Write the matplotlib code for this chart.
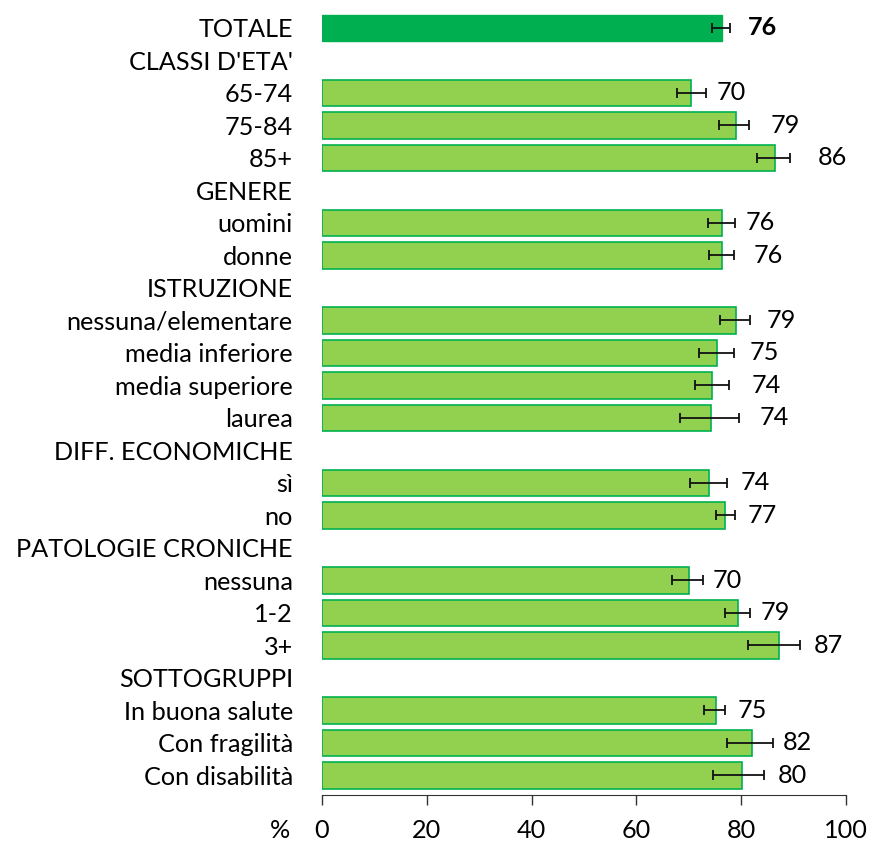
import numpy as np
import matplotlib
matplotlib.use('Agg')
import matplotlib.pyplot as plt

plt.rcParams['font.family'] = ['Lato', 'DejaVu Sans']

# ── dati ─────────────────────────────────────────────────────────────
labels = ["TOTALE", "CLASSI D'ETA'", "65-74", "75-84", "85+",
          "GENERE", "uomini", "donne",
          "ISTRUZIONE", "nessuna/elementare", "media inferiore", "media superiore", "laurea",
          "DIFF. ECONOMICHE", "sì", "no",
          "PATOLOGIE CRONICHE", "nessuna", "1-2", "3+",
          "SOTTOGRUPPI", "In buona salute", "Con fragilità", "Con disabilità"]
nan = np.nan
values = [76.4, nan, 70.4, 79.0, 86.4,
          nan, 76.4, 76.4,
          nan, 79.0, 75.4, 74.4, 74.2,
          nan, 73.9, 77.0,
          nan, 70.0, 79.4, 87.2,
          nan, 75.2, 82.0, 80.1]
ci_low = [74.5, nan, 67.7, 75.7, 83.1,
          nan, 73.6, 73.9,
          nan, 76.0, 72.0, 71.1, 68.3,
          nan, 70.2, 75.1,
          nan, 66.7, 77.0, 81.3,
          nan, 72.9, 77.2, 74.7]
ci_high = [77.9, nan, 73.3, 81.4, 89.4,
           nan, 78.9, 78.6,
           nan, 81.6, 78.6, 77.6, 79.5,
           nan, 77.3, 78.9,
           nan, 72.7, 81.6, 91.3,
           nan, 77.0, 86.0, 84.4]
xticks = [0, 20, 40, 60, 80, 100]

# distanza etichetta valore dalla fine della barra d'errore (px)
label_pad = [18, nan, 11, 22, 27, nan, 10, 20, nan, 17, 16, 23, 21,
             nan, 14, 12, nan, 10, 11, 13, nan, 12, 10, 13]

FS = 18.2
DARK = '#00B050'
LIGHT = '#92D050'

fig = plt.figure(figsize=(8.75, 8.42), dpi=100)
ax = fig.add_axes([322 / 875, 47 / 842, 524 / 875, (795 - 11.75) / 842])

y = np.arange(len(labels))
vals = np.array(values)
lo = np.array(ci_low)
hi = np.array(ci_high)
mask = ~np.isnan(vals)

for i in y[mask]:
    if i == 0:
        ax.barh(i, vals[i], height=0.83, color=DARK, edgecolor=DARK, lw=1)
    else:
        ax.barh(i, vals[i], height=0.83, color=LIGHT, edgecolor=DARK, lw=1.2)

ax.errorbar(vals[mask], y[mask],
            xerr=[vals[mask] - lo[mask], hi[mask] - vals[mask]],
            fmt='none', ecolor='#111111', elinewidth=1.3, capsize=3.6, capthick=1.3)

for i in y[mask]:
    ax.annotate(f'{vals[i]:.0f}', xy=(hi[i], i), xytext=(label_pad[i] * 0.72, 0),
                textcoords='offset points', ha='left', va='center', fontsize=FS,
                fontweight='bold' if i == 0 else 'normal')

ax.set_yticks(y)
ax.set_yticklabels(labels, fontsize=FS)
ax.tick_params(axis='y', length=0, pad=21)
ax.set_ylim(23.6, -0.5)
ax.set_xlim(0, 100)
ax.set_xticks(xticks)
ax.tick_params(axis='x', length=7, width=1, labelsize=FS, pad=10, color='#333333')
for s in ['top', 'right', 'left']:
    ax.spines[s].set_visible(False)
ax.spines['bottom'].set_color('#333333')

fig.text(290 / 875, 1 - 830 / 842, '%', fontsize=FS, ha='right', va='center')

fig.savefig('out.png', dpi=100)
